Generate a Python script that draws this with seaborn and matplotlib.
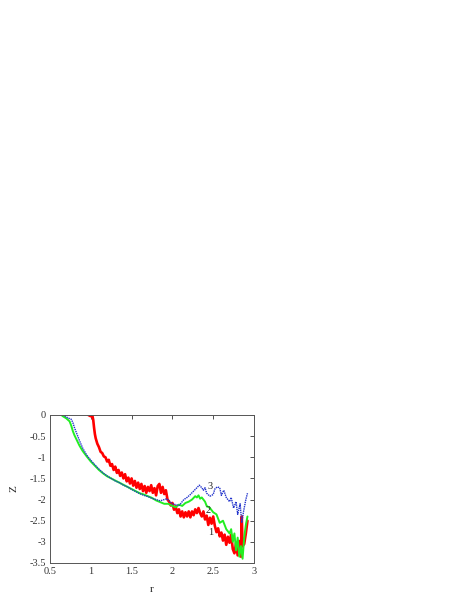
import numpy as np
import pandas as pd
import matplotlib
matplotlib.use("Agg")
import matplotlib.pyplot as plt
import seaborn as sns

# Curve 1 (red)
x1 = [0.97, 1.00, 1.02, 1.03, 1.04, 1.05, 1.06, 1.08, 1.10, 1.12, 1.14, 1.16, 1.18, 1.20, 1.22, 1.24, 1.26,
      1.28, 1.30, 1.32, 1.34, 1.36, 1.38, 1.40, 1.42, 1.44, 1.46, 1.48, 1.50, 1.52, 1.54, 1.56, 1.58,
      1.60, 1.62, 1.64, 1.66, 1.68, 1.70, 1.72, 1.74, 1.76, 1.78, 1.80, 1.82, 1.84, 1.86, 1.88, 1.90,
      1.92, 1.94, 1.96, 1.98, 2.00, 2.02, 2.04, 2.06, 2.08, 2.10, 2.12, 2.14, 2.16, 2.18, 2.20, 2.22,
      2.24, 2.26, 2.28, 2.30, 2.32, 2.34, 2.36, 2.38, 2.40, 2.42, 2.44, 2.46, 2.48, 2.50, 2.52, 2.54,
      2.56, 2.58, 2.60, 2.62, 2.64, 2.66, 2.68, 2.70, 2.72, 2.74, 2.76, 2.78, 2.80, 2.82, 2.84, 2.85,
      2.86, 2.88, 2.90, 2.92]
z1 = [0.0, -0.03, -0.02, -0.12, -0.3, -0.45, -0.55, -0.68, -0.76, -0.87, -0.9, -0.98, -1.0, -1.1, -1.06, -1.2, -1.16,
      -1.3, -1.22, -1.37, -1.3, -1.44, -1.36, -1.5, -1.4, -1.57, -1.48, -1.62, -1.5, -1.67, -1.56, -1.72, -1.6,
      -1.75, -1.63, -1.8, -1.68, -1.84, -1.7, -1.8, -1.66, -1.84, -1.73, -1.9, -1.68, -1.63, -1.84, -1.7, -1.87,
      -1.78, -2.0, -2.05, -2.14, -2.08, -2.24, -2.16, -2.32, -2.23, -2.4, -2.28, -2.42, -2.3, -2.4, -2.28, -2.42,
      -2.28, -2.37, -2.23, -2.32, -2.2, -2.32, -2.4, -2.28, -2.47, -2.38, -2.6, -2.43, -2.57, -2.4, -2.62, -2.77,
      -2.68, -2.87, -2.78, -2.97, -2.83, -3.07, -2.88, -3.02, -2.83, -3.17, -3.27, -3.03, -3.32, -2.98, -3.35, -2.4,
      -3.1, -3.05, -2.8, -2.5]

# Curve 2 (green)
x2 = [0.65, 0.70, 0.74, 0.76, 0.78, 0.80, 0.83, 0.86, 0.90, 0.95, 1.00, 1.05, 1.10, 1.15, 1.20, 1.25,
      1.30, 1.35, 1.40, 1.45, 1.50, 1.55, 1.60, 1.65, 1.70, 1.75, 1.80, 1.85, 1.90, 1.95, 2.00, 2.04,
      2.08, 2.12, 2.16, 2.20, 2.24, 2.28, 2.30, 2.32, 2.34, 2.36, 2.40, 2.42, 2.46, 2.50, 2.54, 2.58,
      2.62, 2.66, 2.70, 2.72, 2.74, 2.76, 2.78, 2.80, 2.82, 2.84, 2.86, 2.88, 2.90, 2.92]
z2 = [-0.02, -0.08, -0.15, -0.25, -0.38, -0.48, -0.6, -0.72, -0.85, -0.98, -1.1, -1.2, -1.3, -1.38, -1.45, -1.5,
      -1.55, -1.6, -1.65, -1.7, -1.75, -1.8, -1.85, -1.88, -1.92, -1.96, -2.02, -2.06, -2.1, -2.1, -2.15, -2.18,
      -2.12, -2.15, -2.08, -2.05, -2.0, -1.92, -1.95, -1.9, -1.98, -1.95, -2.05, -2.15, -2.2, -2.3, -2.35, -2.55,
      -2.5, -2.7, -2.8, -2.7, -3.0, -2.8, -3.2, -2.9, -3.35, -3.1, -3.4, -2.9, -2.6, -2.4]

# Curve 3 (blue)
x3 = [0.68, 0.72, 0.76, 0.78, 0.80, 0.83, 0.86, 0.90, 0.95, 1.00, 1.05, 1.10, 1.15, 1.20, 1.25, 1.30,
      1.35, 1.40, 1.45, 1.50, 1.55, 1.60, 1.65, 1.70, 1.75, 1.80, 1.85, 1.90, 1.93, 1.96, 2.00, 2.04,
      2.08, 2.10, 2.14, 2.18, 2.22, 2.26, 2.30, 2.33, 2.36, 2.38, 2.40, 2.42, 2.46, 2.50, 2.52, 2.55,
      2.58, 2.60, 2.63, 2.66, 2.70, 2.72, 2.75, 2.78, 2.80, 2.83, 2.85, 2.87, 2.90, 2.92]
z3 = [-0.02, -0.07, -0.1, -0.18, -0.3, -0.45, -0.6, -0.78, -0.95, -1.07, -1.18, -1.28, -1.37, -1.44, -1.5, -1.56,
      -1.6, -1.66, -1.7, -1.76, -1.81, -1.86, -1.9, -1.93, -1.97, -2.0, -2.03, -2.0, -1.98, -2.03, -2.1, -2.12,
      -2.14, -2.1, -2.0, -1.95, -1.88, -1.8, -1.72, -1.66, -1.72, -1.78, -1.72, -1.85, -1.92, -1.88, -1.75, -1.7,
      -1.72, -1.9, -1.78, -1.95, -2.05, -1.95, -2.2, -2.05, -2.35, -2.1, -2.55, -2.3, -2.0, -1.85]

labels = ["1", "2", "3"]
label_pos_x = [2.47, 2.44, 2.46]
label_pos_z = [-2.79, -2.25, -1.70]

xticks = [0.5, 1, 1.5, 2, 2.5, 3]
yticks = [0, -0.5, -1, -1.5, -2, -2.5, -3, -3.5]

sns.set_style("white")
plt.rcParams['font.family'] = ['Liberation Serif', 'DejaVu Serif']

fig = plt.figure(figsize=(4.58, 5.92), dpi=100)
ax = fig.add_axes([50/458, 1-563/592, 204/458, 148/592])

sns.lineplot(x=x1, y=z1, ax=ax, color="#ff0000", linewidth=1.9, estimator=None, sort=False)
sns.lineplot(x=x2, y=z2, ax=ax, color="#22ee22", linewidth=1.4, estimator=None, sort=False)
sns.lineplot(x=x3, y=z3, ax=ax, color="#2233cc", linewidth=1.0, estimator=None, sort=False,
             linestyle=(0, (1, 0.6)))

for t, xp, zp in zip(labels, label_pos_x, label_pos_z):
    ax.text(xp, zp, t, fontsize=7.5, ha="center", va="center", color="#222222")

ax.set_xlim(0.5, 3)
ax.set_ylim(-3.5, 0)
ax.set_xticks(xticks)
ax.set_xticklabels([f"{v:g}" for v in xticks])
ax.set_yticks(yticks)
ax.set_yticklabels([f"{v:g}" for v in yticks])
ax.tick_params(direction="in", length=3, width=0.6, top=True, right=True, labelsize=7.5, pad=3,
               colors="#333333")
for s in ax.spines.values():
    s.set_color("#555555")
    s.set_linewidth(0.7)
ax.set_xlabel("r", fontsize=8, labelpad=6)
ax.set_ylabel("Z", fontsize=8, labelpad=8)

fig.savefig("out.png", dpi=100)
